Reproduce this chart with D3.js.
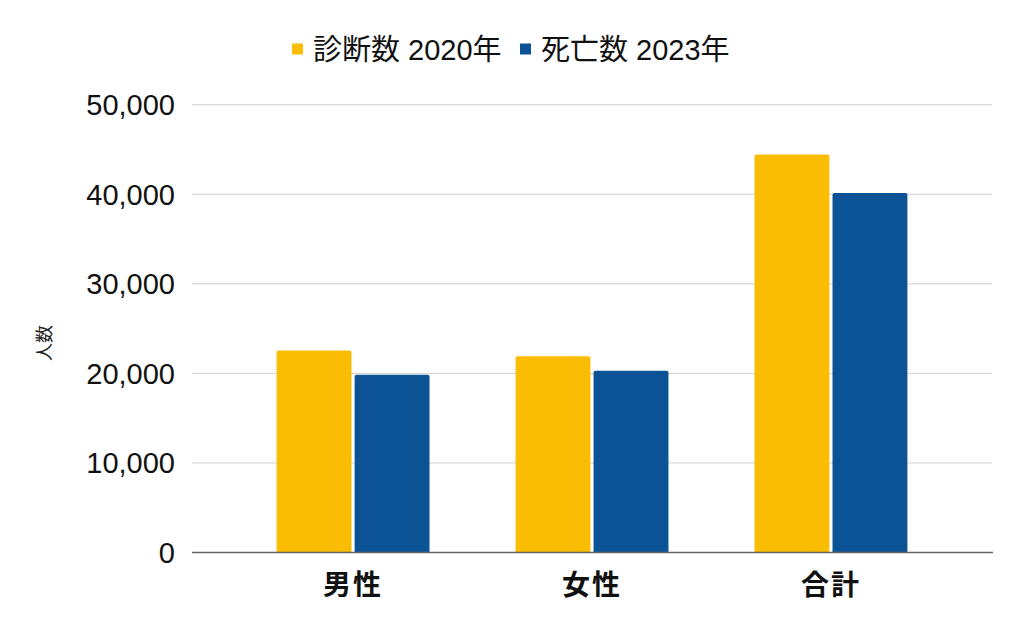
<!DOCTYPE html>
<html>
<head>
<meta charset="utf-8">
<script src="https://cdn.jsdelivr.net/npm/d3@7"></script>
<style>
  html, body { margin: 0; padding: 0; background: #fff; }
  svg { display: block; }
  text { font-family: "Liberation Sans", Arial, "Noto Sans CJK JP", sans-serif; }
</style>
</head>
<body>
<svg id="chart" width="1024" height="634"></svg>
<script>
const categories = ["男性", "女性", "合計"];
const seriesNames = ["診断数 2020年", "死亡数 2023年"];
const diagnosis2020 = [22550, 21900, 44450];
const deaths2023 = [19850, 20280, 40150];
const yTicks = [0, 10000, 20000, 30000, 40000, 50000];
const colors = ["#fbbc04", "#0b5394"];
const yTitle = "人数";

const seriesValues = [diagnosis2020, deaths2023];
const data = categories.map((c, i) => ({
  cat: c,
  vals: seriesNames.map((s, j) => ({ key: s, value: seriesValues[j][i] }))
}));

const svg = d3.select("#chart");
const plotLeft = 192, plotRight = 992, plotTop = 104.7, plotBottom = 552.5;

const y = d3.scaleLinear().domain([0, 50000]).range([plotBottom, plotTop]);
const x0 = d3.scaleBand().domain(categories).range([plotLeft, plotRight])
  .paddingInner(0.36).paddingOuter(0.354);
const x1 = d3.scaleBand().domain(seriesNames).range([0, x0.bandwidth()])
  .paddingInner(0.04);

// gridlines
svg.append("g").selectAll("line").data(yTicks.filter(t => t > 0)).join("line")
  .attr("x1", plotLeft).attr("x2", plotRight)
  .attr("y1", d => y(d)).attr("y2", d => y(d))
  .attr("stroke", "#d0d0d0").attr("stroke-width", 1);

// y tick labels
const fmt = d3.format(",");
svg.append("g").selectAll("text").data(yTicks).join("text")
  .attr("x", 175).attr("y", d => y(d) + 10.3)
  .attr("text-anchor", "end")
  .attr("font-size", 29).attr("fill", "#111")
  .text(d => fmt(d));

// y title
svg.append("text")
  .attr("transform", "translate(51,343) rotate(-90)")
  .attr("text-anchor", "middle")
  .attr("font-size", 18).attr("fill", "#222")
  .text(yTitle);

// bars
const r = 2;
function barPath(x, yTop, w, yBot) {
  return `M${x},${yBot}V${yTop + r}Q${x},${yTop} ${x + r},${yTop}H${x + w - r}Q${x + w},${yTop} ${x + w},${yTop + r}V${yBot}Z`;
}
svg.append("g").selectAll("g").data(data).join("g")
  .attr("transform", d => `translate(${x0(d.cat)},0)`)
  .selectAll("path").data(d => d.vals).join("path")
  .attr("d", d => barPath(x1(d.key), y(d.value), x1.bandwidth(), y(0)))
  .attr("fill", (d, i) => colors[i]);

// baseline
svg.append("line")
  .attr("x1", plotLeft).attr("x2", plotRight + 1)
  .attr("y1", y(0)).attr("y2", y(0))
  .attr("stroke", "#666").attr("stroke-width", 1.3);

// x labels
svg.append("g").selectAll("text").data(categories).join("text")
  .attr("x", d => x0(d) + x0.bandwidth() / 2)
  .attr("y", 595)
  .attr("text-anchor", "middle")
  .attr("font-size", 28).attr("font-weight", "bold").attr("fill", "#111")
  .attr("letter-spacing", 2)
  .text(d => d);

// legend
const legendX = [292, 520];
const lg = svg.append("g").selectAll("g").data(seriesNames).join("g")
  .attr("transform", (d, i) => `translate(${legendX[i]},0)`);
lg.append("rect").attr("x", 0).attr("y", 43.5).attr("width", 11).attr("height", 11)
  .attr("fill", (d, i) => colors[i]);
lg.append("text").attr("x", 21).attr("y", 59.5)
  .attr("font-size", 29).attr("fill", "#111")
  .text(d => d);
</script>
</body>
</html>
